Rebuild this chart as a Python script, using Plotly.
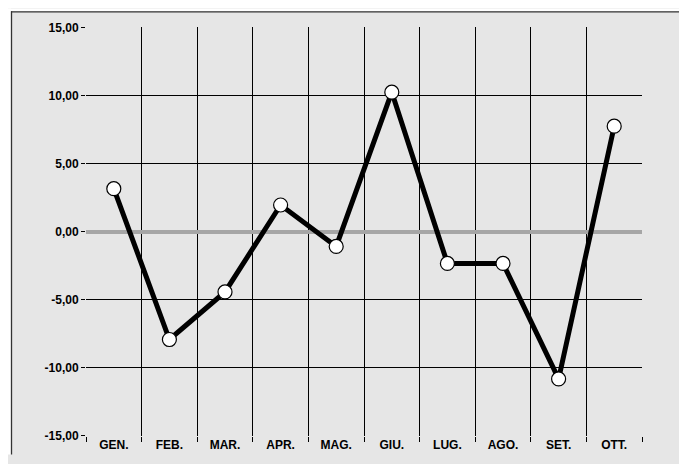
import plotly.graph_objects as go

months = ["GEN.", "FEB.", "MAR.", "APR.", "MAG.", "GIU.", "LUG.", "AGO.", "SET.", "OTT."]
values = [3.15, -7.95, -4.45, 1.95, -1.1, 10.25, -2.35, -2.35, -10.85, 7.75]
y_tickvals = [-15, -10, -5, 0, 5, 10, 15]
y_ticktext = ["-15,00", "-10,00", "-5,00", "0,00", "5,00", "10,00", "15,00"]

font_family = "Liberation Sans, Arial, Helvetica, sans-serif"

# page body has an 8px margin, so the figure is sized/offset to compensate
W, H = 679, 456
L, T = 78, 19
PW, PH = 556, 418
B = 3  # border offset inside the figure


def px(x):
    return (x - L) / PW


def py(y):
    return 1 - (y - T) / PH


fig = go.Figure()
fig.add_trace(go.Scatter(
    x=months, y=values, mode="lines+markers",
    line=dict(color="black", width=5),
    marker=dict(size=14, color="white", line=dict(color="black", width=1.2)),
    showlegend=False, hoverinfo="skip",
))

fig.update_layout(
    width=W, height=H,
    margin=dict(l=L, r=W - L - PW, t=T, b=H - T - PH, pad=0),
    paper_bgcolor="#e6e6e6",
    plot_bgcolor="rgba(0,0,0,0)",
    font=dict(family=font_family, size=12, color="black"),
    shapes=[
        dict(type="rect", xref="paper", yref="paper",
             x0=px(0), x1=px(W), y0=py(B), y1=py(0),
             fillcolor="white", line=dict(width=0), layer="above"),
        dict(type="rect", xref="paper", yref="paper",
             x0=px(0), x1=px(B), y0=py(H), y1=py(0),
             fillcolor="white", line=dict(width=0), layer="above"),
        dict(type="line", xref="paper", yref="paper",
             x0=px(B), x1=px(W), y0=py(B + 0.5), y1=py(B + 0.5),
             line=dict(color="#333333", width=1.3), layer="above"),
        dict(type="line", xref="paper", yref="paper",
             x0=px(B + 0.5), x1=px(B + 0.5), y0=py(H), y1=py(B),
             line=dict(color="#333333", width=1.3), layer="above"),
    ],
)

fig.update_xaxes(
    type="category", range=[-0.5, 9.5],
    tickson="boundaries", ticks="outside", ticklen=5, tickcolor="black", tickwidth=1,
    showgrid=True, gridcolor="black", gridwidth=1,
    zeroline=False, showline=False,
    tickfont=dict(family=font_family, size=12, color="black", weight="bold"),
)
fig.update_yaxes(
    range=[-15.05, 15.05],
    tickvals=y_tickvals, ticktext=y_ticktext,
    ticks="outside", ticklen=4, tickcolor="black", tickwidth=1,
    showgrid=True, gridcolor="black", gridwidth=1,
    zeroline=True, zerolinecolor="#a6a6a6", zerolinewidth=4,
    showline=False,
    tickfont=dict(family=font_family, size=12, color="black", weight="bold"),
)

fig.write_html("out.html")
